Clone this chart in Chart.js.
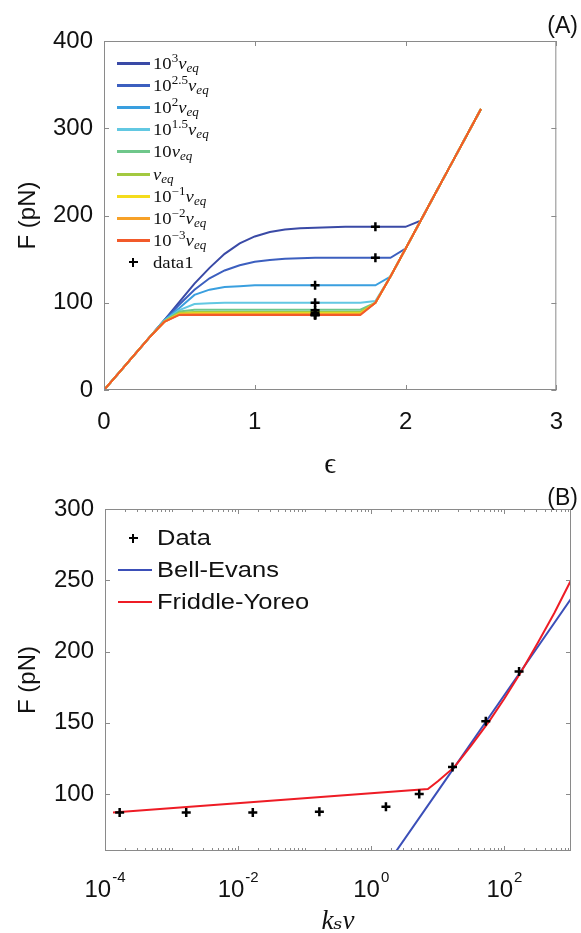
<!DOCTYPE html>
<html><head><meta charset="utf-8">
<script src="https://cdn.jsdelivr.net/npm/chart.js@4.4.1/dist/chart.umd.min.js"></script>
<style>
html,body{margin:0;padding:0;background:#fff;}
#wrap{position:relative;width:581px;height:933px;overflow:hidden;background:#fff;}
canvas{position:absolute;left:0;}
#cA{top:0;} #cB{top:480px;}
.ln{position:absolute;}
.tx{position:absolute;transform-origin:left center;line-height:1;white-space:nowrap;color:#111;}
.serif{font-family:'Liberation Serif','DejaVu Serif',serif;font-size:17px;transform:translateY(-50%) scaleX(1.1);}
.sans{font-family:'Liberation Sans',Arial,sans-serif;font-size:22px;transform:translateY(-50%) scaleX(1.16);}
.tx sup{font-size:0.7em;vertical-align:0.55em;line-height:0;}
.tx sub{font-size:0.7em;vertical-align:-0.3em;line-height:0;}
.crh,.crv{position:absolute;background:#000;}
.panel{position:absolute;font-family:'Liberation Sans',Arial,sans-serif;font-size:23px;color:#111;transform:translateY(-50%);right:3px;line-height:1;}
</style></head>
<body><div id="wrap">
<canvas id="cA" width="581" height="480"></canvas>
<canvas id="cB" width="581" height="453"></canvas>
<div id="legA"></div><div id="legB"></div>
<div class="panel" style="top:25px">(A)</div>
<div class="panel" style="top:497px">(B)</div>
</div>
<script>
// ---------- Panel A data ----------
const strain = [0,0.1,0.2,0.3,0.4,0.5,0.6,0.7,0.8,0.9,1.0,1.1,1.2,1.3,1.4,1.5,1.6,1.7,1.8,1.9,2.0,2.1,2.2,2.3,2.4,2.5];
const speedExponents = ['3','2.5','2','1.5','1','0','-1','-2','-3'];
const F_v3   = [0,20,40,60,80,101,122,140,156,168,176,181,184,185.5,186,186.5,187,187,187,187,187,194,226,258,290,322];
const F_v2p5 = [0,20,40,60,80,98,115,128,137,143,147,149,150.5,151,151.5,151.5,151.5,151.5,151.5,151.5,162,194,226,258,290,322];
const F_v2   = [0,20,40,60,80,94,109,115,118,119,120,120,120,120,120,120,120,120,120,130,162,194,226,258,290,322];
const F_v1p5 = [0,20,40,60,79.5,91.5,98.5,99.5,100,100,100,100,100,100,100,100,100,100,102,130,162,194,226,258,290,322];
const F_v1   = [0,20,40,60,79,90,92,92,92,92,92,92,92,92,92,92,92,92,100,130,162,194,226,258,290,322];
const F_v0   = [0,20,40,60,78.5,88.5,89.5,89.5,89.5,89.5,89.5,89.5,89.5,89.5,89.5,89.5,89.5,89.5,100,130,162,194,226,258,290,322];
const F_vm1  = [0,20,40,60,78.2,87.5,88,88,88,88,88,88,88,88,88,88,88,88,100,130,162,194,226,258,290,322];
const F_vm2  = [0,20,40,60,78,86.8,87,87,87,87,87,87,87,87,87,87,87,87,100,130,162,194,226,258,290,322];
const F_vm3  = [0,20,40,60,78,86,86,86,86,86,86,86,86,86,86,86,86,86,100,130,162,194,226,258,290,322];
const markStrain = [1.4,1.4,1.4,1.4,1.4,1.4,1.4,1.8,1.8];
const markForce  = [86,86,86,88.5,91.5,100,120,151.5,187];
const xTicksA = [0,1,2,3];
const yTicksA = [0,100,200,300,400];

// ---------- Panel B data ----------
const rateData  = [1.66e-4,1.66e-3,1.66e-2,0.166,1.66,5.25,16.6,52.5,166];
const forceData = [87,87,87,87.5,91,100,119,151,186];
const rateBE  = [2.0,10,100,1000];
const forceBE = [55,102,169.5,237];
const rateFY  = [1.32e-4,7.08,10,17.8,31.6,58.9,100,182,316,562,1000];
const forceFY = [87,103.5,109,119,134,151,167,186.5,206,227,250];
const xTickExpB = [-4,-2,0,2];
const yTicksB = [100,150,200,250,300];

// ---------- styles ----------
const speedColors = ['#3a4aa6','#3c5fbf','#3a9fdf','#62c8e2','#6fc78b','#a3c940','#f4dc1c','#f7a128','#f25a2a'];
const colBE = '#3b4fb8', colFY = '#ee1c25';
const SANS = "'Liberation Sans', Arial, sans-serif";

Chart.defaults.font.family = SANS;
Chart.defaults.color = '#111';

const pairs = (xs, ys) => xs.map((x, i) => ({x: x, y: ys[i]}));

const boxPlugin = {
  id: 'matBox',
  afterDraw(chart, args, opts) {
    const {ctx, chartArea: a, scales: {x, y}} = chart;
    ctx.save();
    ctx.strokeStyle = '#8a8a8a';
    ctx.lineWidth = 1;
    ctx.strokeRect(a.left + 0.5, a.top + 0.5, a.right - a.left - 1, a.bottom - a.top - 1);
    ctx.beginPath();
    const vt = (v, L) => { const p = Math.round(x.getPixelForValue(v)) + 0.5; ctx.moveTo(p, a.bottom); ctx.lineTo(p, a.bottom - L); ctx.moveTo(p, a.top); ctx.lineTo(p, a.top + L); };
    const ht = (v, L) => { const p = Math.round(y.getPixelForValue(v)) + 0.5; ctx.moveTo(a.left, p); ctx.lineTo(a.left + L, p); ctx.moveTo(a.right, p); ctx.lineTo(a.right - L, p); };
    (opts.xMajor || []).forEach(v => vt(v, 5));
    (opts.xMinor || []).forEach(v => vt(v, 3));
    (opts.yMajor || []).forEach(v => ht(v, 5));
    ctx.stroke();
    // power-of-ten tick labels (10 with raised exponent), placed by the x scale
    if (opts.powLabels) {
      ctx.fillStyle = '#111';
      ctx.textBaseline = 'alphabetic';
      ctx.textAlign = 'left';
      x.ticks.forEach(t => {
        const px = x.getPixelForValue(t.value);
        const e = String(Math.round(Math.log10(t.value)));
        ctx.font = '24px ' + SANS;
        const wb = ctx.measureText('10').width;
        ctx.font = '15px ' + SANS;
        const we = ctx.measureText(e).width;
        const x0 = px - (wb + 1 + we) / 2;
        const base = a.bottom + 46;
        ctx.font = '24px ' + SANS;
        ctx.fillText('10', x0, base);
        ctx.font = '15px ' + SANS;
        ctx.fillText(e, x0 + wb + 1, base - 15);
      });
    }
    ctx.restore();
  }
};

// ---------- Chart A ----------
const seriesA = [F_v3, F_v2p5, F_v2, F_v1p5, F_v1, F_v0, F_vm1, F_vm2, F_vm3];
const dsA = seriesA.map((arr, i) => ({
  label: speedExponents[i], data: pairs(strain, arr), borderColor: speedColors[i],
  borderWidth: 2, pointRadius: 0, fill: false, tension: 0, order: 9 - i
}));
dsA.push({label: 'data1', data: pairs(markStrain, markForce), showLine: false, pointStyle: 'cross',
  pointRadius: 4.5, pointBorderWidth: 2.5, borderColor: '#000', backgroundColor: '#000', order: 0});

new Chart(document.getElementById('cA'), {
  type: 'line',
  data: {datasets: dsA},
  options: {
    responsive: false, animation: false, devicePixelRatio: 1,
    layout: {padding: {top: 41, right: 13, left: 0, bottom: 0}},
    plugins: {legend: {display: false}, tooltip: {enabled: false},
      matBox: {xMajor: xTicksA, yMajor: yTicksA}},
    scales: {
      x: {type: 'linear', min: 0, max: 3, grid: {display: false, drawTicks: false}, border: {display: false},
        afterBuildTicks: s => { s.ticks = xTicksA.map(v => ({value: v})); },
        afterFit: s => { s.height = 90; },
        ticks: {padding: 18, font: {size: 24}, color: '#111'},
        title: {display: true, text: 'ϵ', font: {family: "'Liberation Serif','DejaVu Serif',serif", size: 29, lineHeight: 1.0}, padding: 0, color: '#111'}},
      y: {type: 'linear', min: 0, max: 400, grid: {display: false, drawTicks: false}, border: {display: false},
        afterBuildTicks: s => { s.ticks = yTicksA.map(v => ({value: v})); },
        afterFit: s => { s.width = 104; },
        ticks: {padding: 11, font: {size: 24}, color: '#111'},
        title: {display: true, text: 'F (pN)', font: {size: 24, lineHeight: 1.2}, padding: {top: 14, bottom: 0}, color: '#111'}}
    }
  },
  plugins: [boxPlugin]
});

// ---------- Chart B ----------
const minorB = [];
for (let e = -4; e < 3; e++) for (let k = 1; k < 10; k++) { const v = k * Math.pow(10, e); if (!(k === 1 && xTickExpB.includes(e))) minorB.push(v); }

new Chart(document.getElementById('cB'), {
  type: 'line',
  data: {datasets: [
    {label: 'Data', data: pairs(rateData, forceData), showLine: false, pointStyle: 'cross',
      pointRadius: 4.5, pointBorderWidth: 2.5, borderColor: '#000', backgroundColor: '#000', order: 0},
    {label: 'Bell-Evans', data: pairs(rateBE, forceBE), borderColor: colBE, borderWidth: 2, pointRadius: 0, tension: 0, order: 2},
    {label: 'Friddle-Yoreo', data: pairs(rateFY, forceFY), borderColor: colFY, borderWidth: 2, pointRadius: 0, tension: 0, order: 1}
  ]},
  options: {
    responsive: false, animation: false, devicePixelRatio: 1,
    layout: {padding: {top: 29, right: 10, left: 0, bottom: 0}},
    plugins: {legend: {display: false}, tooltip: {enabled: false},
      matBox: {xMajor: xTickExpB.map(e => Math.pow(10, e)), xMinor: minorB, yMajor: yTicksB, powLabels: true}},
    scales: {
      x: {type: 'logarithmic', min: 1e-4, max: 1e3, grid: {display: false, drawTicks: false}, border: {display: false},
        afterBuildTicks: s => { s.ticks = xTickExpB.map(e => ({value: Math.pow(10, e)})); },
        afterFit: s => { s.height = 82; },
        ticks: {display: false},
        title: {display: true, text: 'kₛv', font: {family: "'Liberation Serif','DejaVu Serif',serif", size: 27, style: 'italic', lineHeight: 0.85}, padding: 0, color: '#111'}},
      y: {type: 'linear', min: 60, max: 300, grid: {display: false, drawTicks: false}, border: {display: false},
        afterBuildTicks: s => { s.ticks = yTicksB.map(v => ({value: v})); },
        afterFit: s => { s.width = 105; },
        ticks: {padding: 11, font: {size: 24}, color: '#111'},
        title: {display: true, text: 'F (pN)', font: {size: 24, lineHeight: 1.2}, padding: {top: 14, bottom: 0}, color: '#111'}}
    }
  },
  plugins: [boxPlugin]
});

// ---------- Legends (HTML, rich text) ----------
function speedHTML(e) {
  const v = '<i>v</i><sub><i>eq</i></sub>';
  if (e === '0') return v;
  if (e === '1') return '10' + v;
  return '10<sup>' + e.replace('-', '−') + '</sup>' + v;
}
function addLine(parent, x, y, w, h, color) {
  const d = document.createElement('div'); d.className = 'ln';
  d.style.cssText = `left:${x}px;top:${Math.round(y - h / 2)}px;width:${w}px;height:${h}px;background:${color}`;
  parent.appendChild(d);
}
function addCross(parent, cx, cy, s, t) {
  const h = document.createElement('div'); h.className = 'crh';
  h.style.cssText = `left:${cx - s / 2}px;top:${cy - t / 2}px;width:${s}px;height:${t}px`;
  const v = document.createElement('div'); v.className = 'crv';
  v.style.cssText = `left:${cx - t / 2}px;top:${cy - s / 2}px;width:${t}px;height:${s}px`;
  parent.appendChild(h); parent.appendChild(v);
}
function addText(parent, x, y, html, cls) {
  const d = document.createElement('div'); d.className = 'tx ' + cls;
  d.style.left = x + 'px'; d.style.top = y + 'px'; d.innerHTML = html;
  parent.appendChild(d);
}
const legA = document.getElementById('legA');
speedExponents.forEach((e, i) => {
  const y = Math.round(63 + i * 22.1);
  addLine(legA, 117, y, 33, 3, speedColors[i]);
  addText(legA, 153, y, speedHTML(e), 'serif');
});
addCross(legA, 133, 262, 9, 2.5);
addText(legA, 153, 262, 'data1', 'serif');

const legB = document.getElementById('legB');
addCross(legB, 133, 538, 9, 2.5);
addText(legB, 157, 538, 'Data', 'sans');
addLine(legB, 118, 570, 34, 2, colBE);
addText(legB, 157, 570, 'Bell-Evans', 'sans');
addLine(legB, 118, 602, 34, 2, colFY);
addText(legB, 157, 602, 'Friddle-Yoreo', 'sans');
</script>
</body></html>
